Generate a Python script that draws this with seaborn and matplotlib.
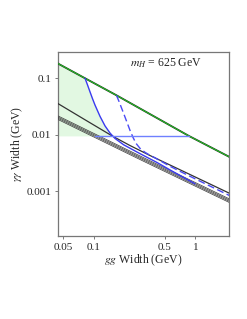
import numpy as np
import pandas as pd
import matplotlib
matplotlib.use("Agg")
import matplotlib.pyplot as plt
import seaborn as sns

# ---- data ----
top_x = [0.0437, 0.0815, 0.167, 0.86, 2.20]
top_y = [0.184, 0.100, 0.0497, 0.0095, 0.00396]

black2_x = [0.04348, 0.08152, 0.1504, 0.2263, 0.3561, 2.20]
black2_y = [0.03610, 0.01835, 0.009524, 0.006413, 0.004268, 0.000900]

grp_x = [0.04348, 0.3040, 2.202]
grp1_y = [0.02178, 0.003949, 0.000713]
grp2_y = [0.02074, 0.003760, 0.000679]
grp3_y = [0.01975, 0.003580, 0.000646]
grp4_y = [0.01880, 0.003408, 0.000615]

blue_x = [0.08152, 0.08629, 0.09135, 0.09666, 0.1023, 0.1146, 0.1283,
          0.1438, 0.1610, 0.1962, 0.2859, 0.4175, 0.6097, 0.9888]
blue_y = [0.1000, 0.07609, 0.05722, 0.04337, 0.03342, 0.02108, 0.01431,
          0.01067, 0.008563, 0.006599, 0.004573, 0.003208, 0.002178, 0.001346]

dash_x = [0.1666, 0.1763, 0.1866, 0.1975, 0.2114, 0.2263, 0.2422, 0.2593,
          0.2839, 0.3180, 0.3561, 0.3990, 0.5608, 0.8827, 1.390, 2.187]
dash_y = [0.04961, 0.03885, 0.02980, 0.02287, 0.01651, 0.01192, 0.008958,
          0.007015, 0.005721, 0.004861, 0.004301, 0.003885, 0.002748,
          0.001827, 0.001226, 0.000825]

horiz_x = [0.102, 0.86]
horiz_y = [0.0095, 0.0095]

xticks = [0.05, 0.1, 0.5, 1]
xticklabels = ["0.05", "0.1", "0.5", "1"]
yticks = [0.1, 0.01, 0.001]
yticklabels = ["0.1", "0.01", "0.001"]

sns.set_style("ticks")
plt.rcParams["font.family"] = ["Liberation Serif", "DejaVu Serif"]
plt.rcParams["mathtext.fontset"] = "stix"

fig = plt.figure(figsize=(2.47, 3.19), dpi=100)
ax = fig.add_axes([0.233, 0.259, 0.694, 0.579])
ax.set_xscale("log")
ax.set_yscale("log")
ax.set_xlim(0.0437, 2.14)
ax.set_ylim(0.000157, 0.296)

# green shaded region: below top line / blue curve, above the horizontal level
fx = np.logspace(np.log10(0.0437), np.log10(0.1525), 300)
top_interp = 10 ** np.interp(np.log10(fx), np.log10(top_x), np.log10(top_y))
blue_interp = np.where(fx < blue_x[0], np.inf,
                       10 ** np.interp(np.log10(fx), np.log10(blue_x), np.log10(blue_y)))
upper = np.maximum(np.minimum(top_interp, blue_interp), horiz_y[0])
ax.fill_between(fx, horiz_y[0], upper, color="#e2f8e2", lw=0, zorder=1)

def line(x, y, **kw):
    df = pd.DataFrame({"x": x, "y": y})
    sns.lineplot(data=df, x="x", y="y", ax=ax, sort=False, estimator=None, **kw)

line(top_x, top_y, color="#222222", lw=1.3, zorder=3)
line(top_x, top_y, color="#22cc22", lw=0.7, zorder=4)
line(black2_x, black2_y, color="#333333", lw=0.9, zorder=3)
for gy in (grp1_y, grp2_y, grp3_y, grp4_y):
    line(grp_x, gy, color="#444444", lw=0.55, zorder=3)
line(blue_x, blue_y, color="#3a3af0", lw=1.0, zorder=5)
line(dash_x, dash_y, color="#4a4af5", lw=1.0, zorder=5, dashes=(5, 2.5))
line(horiz_x, horiz_y, color="#6f80ff", lw=1.0, zorder=5)

ax.set_xticks(xticks)
ax.set_xticklabels(xticklabels)
ax.set_yticks(yticks)
ax.set_yticklabels(yticklabels)
ax.minorticks_off()
ax.tick_params(labelsize=8, length=2.5, width=0.6, color="#666666", pad=2)
for s in ax.spines.values():
    s.set_color("#777777")
    s.set_linewidth(0.9)

ax.set_xlabel(r"$gg$ Width (GeV)", fontsize=8.5, labelpad=1)
ax.set_ylabel(r"$\gamma\gamma$ Width (GeV)", fontsize=8.5, labelpad=1)
ax.text(0.635, 0.94, r"$m_H$ = 625 GeV", transform=ax.transAxes,
        fontsize=8.5, ha="center", va="center")

fig.savefig("out.png", dpi=100)
